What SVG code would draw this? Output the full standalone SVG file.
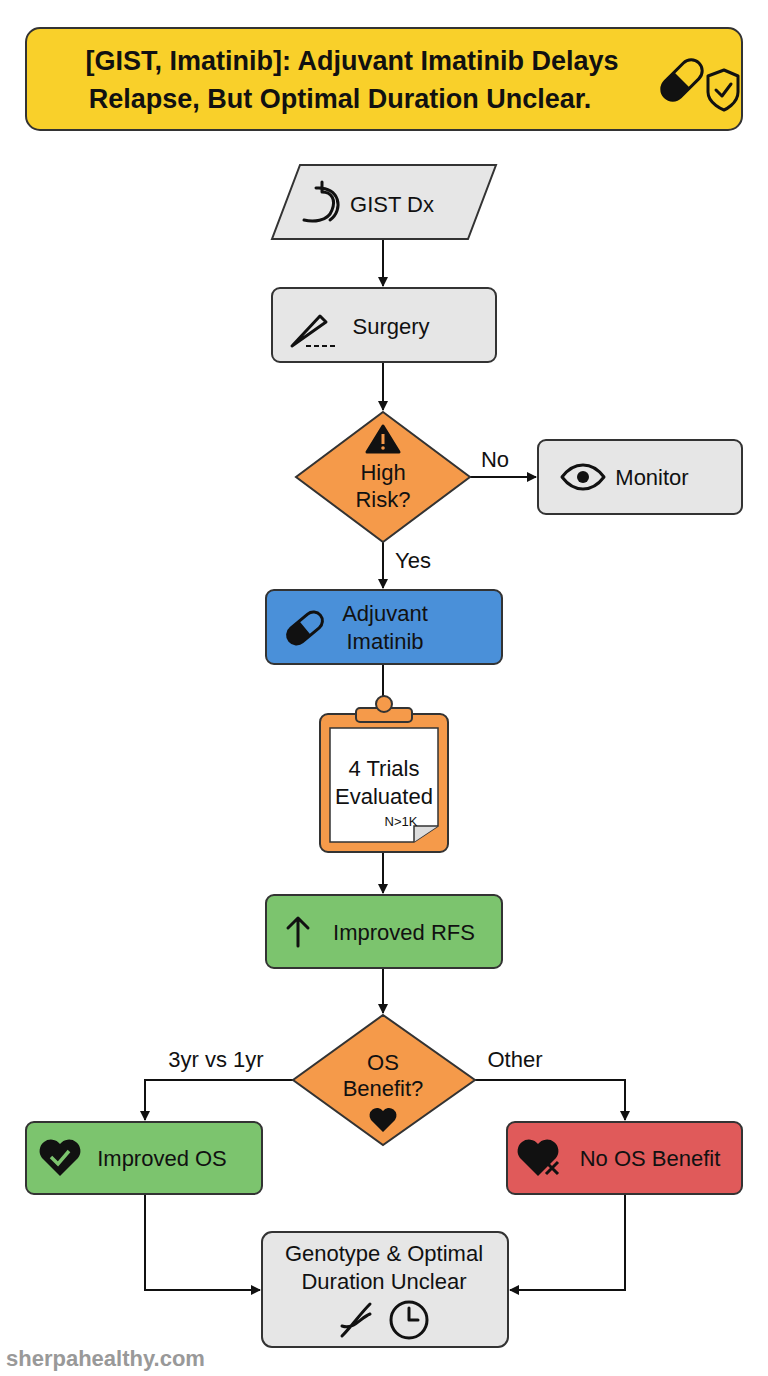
<svg xmlns="http://www.w3.org/2000/svg" width="768" height="1376" viewBox="0 0 768 1376">
<defs>
<style>
.t{font-family:"Liberation Sans",Arial,sans-serif;font-size:22px;fill:#111;text-anchor:middle}
.n{stroke:#333;stroke-width:2}
.c{stroke:#111;stroke-width:2;fill:none}
.ic{fill:none;stroke:#111;stroke-width:3;stroke-linecap:round;stroke-linejoin:round}
</style>
<marker id="a" markerWidth="10" markerHeight="10" refX="9" refY="5" orient="auto" markerUnits="userSpaceOnUse"><path d="M0,0L10,5L0,10z" fill="#111"/></marker>
</defs>
<rect width="768" height="1376" fill="#fff"/>
<g id="title">
<rect x="26" y="28" width="716" height="102" rx="14" fill="#f9d02a" class="n"/>
<text class="t" x="352" y="70" style="font-size:27px;font-weight:bold">[GIST, Imatinib]: Adjuvant Imatinib Delays</text>
<text class="t" x="340" y="108" style="font-size:27px;font-weight:bold">Relapse, But Optimal Duration Unclear.</text>
<g transform="translate(682,80) rotate(-45)"><rect x="-24" y="-11" width="48" height="22" rx="11" class="ic" fill="#f9d02a"/><path d="M0,-11 H-13 A11,11 0 0 0 -13,11 H0Z" fill="#111"/></g>
<path d="M708,76 L724,70 L738,76 V92 C738,104 724,110 724,110 C724,110 708,104 708,92Z" fill="#f9d02a" class="ic"/>
<path d="M716,90 L722,96 L731,84" class="ic"/>
</g>
<g id="conn">
<path class="c" d="M383,239V286" marker-end="url(#a)"/>
<path class="c" d="M383,362V410" marker-end="url(#a)"/>
<path class="c" d="M470,477H536" marker-end="url(#a)"/>
<text class="t" x="495" y="467">No</text>
<path class="c" d="M383,542V588" marker-end="url(#a)"/>
<text class="t" x="413" y="568">Yes</text>
<path class="c" d="M383,664V702"/>
<path class="c" d="M383,852V893" marker-end="url(#a)"/>
<path class="c" d="M383,968V1013" marker-end="url(#a)"/>
<path class="c" d="M293,1080H145V1120" marker-end="url(#a)"/>
<text class="t" x="216" y="1067">3yr vs 1yr</text>
<path class="c" d="M475,1080H625V1120" marker-end="url(#a)"/>
<text class="t" x="515" y="1067">Other</text>
<path class="c" d="M145,1194V1290H260" marker-end="url(#a)"/>
<path class="c" d="M625,1194V1290H510" marker-end="url(#a)"/>
</g>
<g id="gist">
<polygon points="300,165 496,165 468,239 272,239" fill="#e6e6e6" class="n"/>
<path d="M322,182 V192 C332,192 336,200 332,210 C328,222 312,222 304,220 M316,188 C340,186 344,210 330,220" class="ic" stroke-width="2.5"/>
<text class="t" x="392" y="212">GIST Dx</text>
</g>
<g id="surgery">
<rect x="272" y="288" width="224" height="74" rx="8" fill="#e6e6e6" class="n"/>
<path d="M292,346 L320,316 L326,322 Z" class="ic" stroke-width="2"/>
<path d="M306,346 H338" stroke="#111" stroke-width="2" stroke-dasharray="5,3"/>
<text class="t" x="391" y="334">Surgery</text>
</g>
<g id="risk">
<polygon points="383,412 470,477 383,542 296,477" fill="#f59a4a" class="n"/>
<path d="M383,426 L399,452 H367 Z" fill="#111" stroke="#111" stroke-width="3" stroke-linejoin="round"/>
<rect x="381.5" y="434" width="3" height="10" fill="#f59a4a"/><circle cx="383" cy="448" r="1.8" fill="#f59a4a"/>
<text class="t" x="383" y="480">High</text>
<text class="t" x="383" y="507">Risk?</text>
</g>
<g id="monitor">
<rect x="538" y="440" width="204" height="74" rx="8" fill="#e6e6e6" class="n"/>
<path d="M562,477 C574,461 592,461 604,477 C592,493 574,493 562,477Z" class="ic"/><circle cx="583" cy="477" r="6" fill="#111"/>
<text class="t" x="652" y="485">Monitor</text>
</g>
<g id="adj">
<rect x="266" y="590" width="236" height="74" rx="8" fill="#4a90d9" class="n"/>
<g transform="translate(305,628) rotate(-40)"><rect x="-20" y="-9" width="40" height="18" rx="9" class="ic"/><path d="M-11,-9 A9,9 0 0 0 -11,9 H0 V-9Z" fill="#111"/></g>
<text class="t" x="385" y="621">Adjuvant</text>
<text class="t" x="385" y="649">Imatinib</text>
</g>
<g id="trials">
<rect x="320" y="714" width="128" height="138" rx="8" fill="#f59a4a" class="n"/>
<path d="M330,728 H438 V826 L414,842 H330Z" fill="#fff" stroke="#333" stroke-width="1.5"/>
<path d="M414,842 V826 H438" fill="#ddd" stroke="#333" stroke-width="1.5"/>
<rect x="356" y="708" width="56" height="14" rx="4" fill="#f59a4a" class="n"/>
<circle cx="384" cy="704" r="8" fill="#f59a4a" class="n"/>
<text class="t" x="384" y="776">4 Trials</text>
<text class="t" x="384" y="804">Evaluated</text>
<text class="t" x="401" y="826" style="font-size:13px">N&gt;1K</text>
</g>
<g id="rfs">
<rect x="266" y="895" width="236" height="73" rx="8" fill="#7cc46e" class="n"/>
<path d="M298,946 V918 M288,928 L298,918 L308,928" class="ic"/>
<text class="t" x="404" y="940">Improved RFS</text>
</g>
<g id="os">
<polygon points="383,1015 475,1080 383,1145 293,1080" fill="#f59a4a" class="n"/>
<text class="t" x="383" y="1070">OS</text>
<text class="t" x="383" y="1096">Benefit?</text>
<path d="M383,1132 L371,1120 A6,6 0 0 1 383,1111 A6,6 0 0 1 395,1120Z" fill="#111"/>
</g>
<g id="impos">
<rect x="26" y="1122" width="236" height="72" rx="8" fill="#7cc46e" class="n"/>
<path d="M60,1176 L42,1158 A10,10 0 0 1 60,1144 A10,10 0 0 1 78,1158Z" fill="#111"/>
<path d="M51,1157 L58,1164 L69,1151" fill="none" stroke="#7cc46e" stroke-width="3.5"/>
<text class="t" x="162" y="1166">Improved OS</text>
</g>
<g id="noos">
<rect x="507" y="1122" width="235" height="72" rx="8" fill="#e05a5a" class="n"/>
<path d="M538,1176 L520,1158 A10,10 0 0 1 538,1144 A10,10 0 0 1 556,1158Z" fill="#111"/>
<path d="M546,1162 L558,1174 M558,1162 L546,1174" stroke="#111" stroke-width="3"/>
<text class="t" x="650" y="1166">No OS Benefit</text>
</g>
<g id="geno">
<rect x="262" y="1232" width="246" height="115" rx="10" fill="#e6e6e6" class="n"/>
<text class="t" x="384" y="1261">Genotype &amp; Optimal</text>
<text class="t" x="384" y="1289">Duration Unclear</text>
<path d="M342,1336 C352,1326 360,1314 370,1304 M342,1326 C354,1330 360,1318 370,1314" class="ic" stroke-width="2.5"/>
<circle cx="409" cy="1320" r="18" class="ic"/><path d="M409,1308 V1320 H418" class="ic"/>
</g>
<text x="6" y="1366" style="font-family:'Liberation Sans',Arial,sans-serif;font-size:22px;font-weight:bold;fill:#999">sherpahealthy.com</text>
</svg>
